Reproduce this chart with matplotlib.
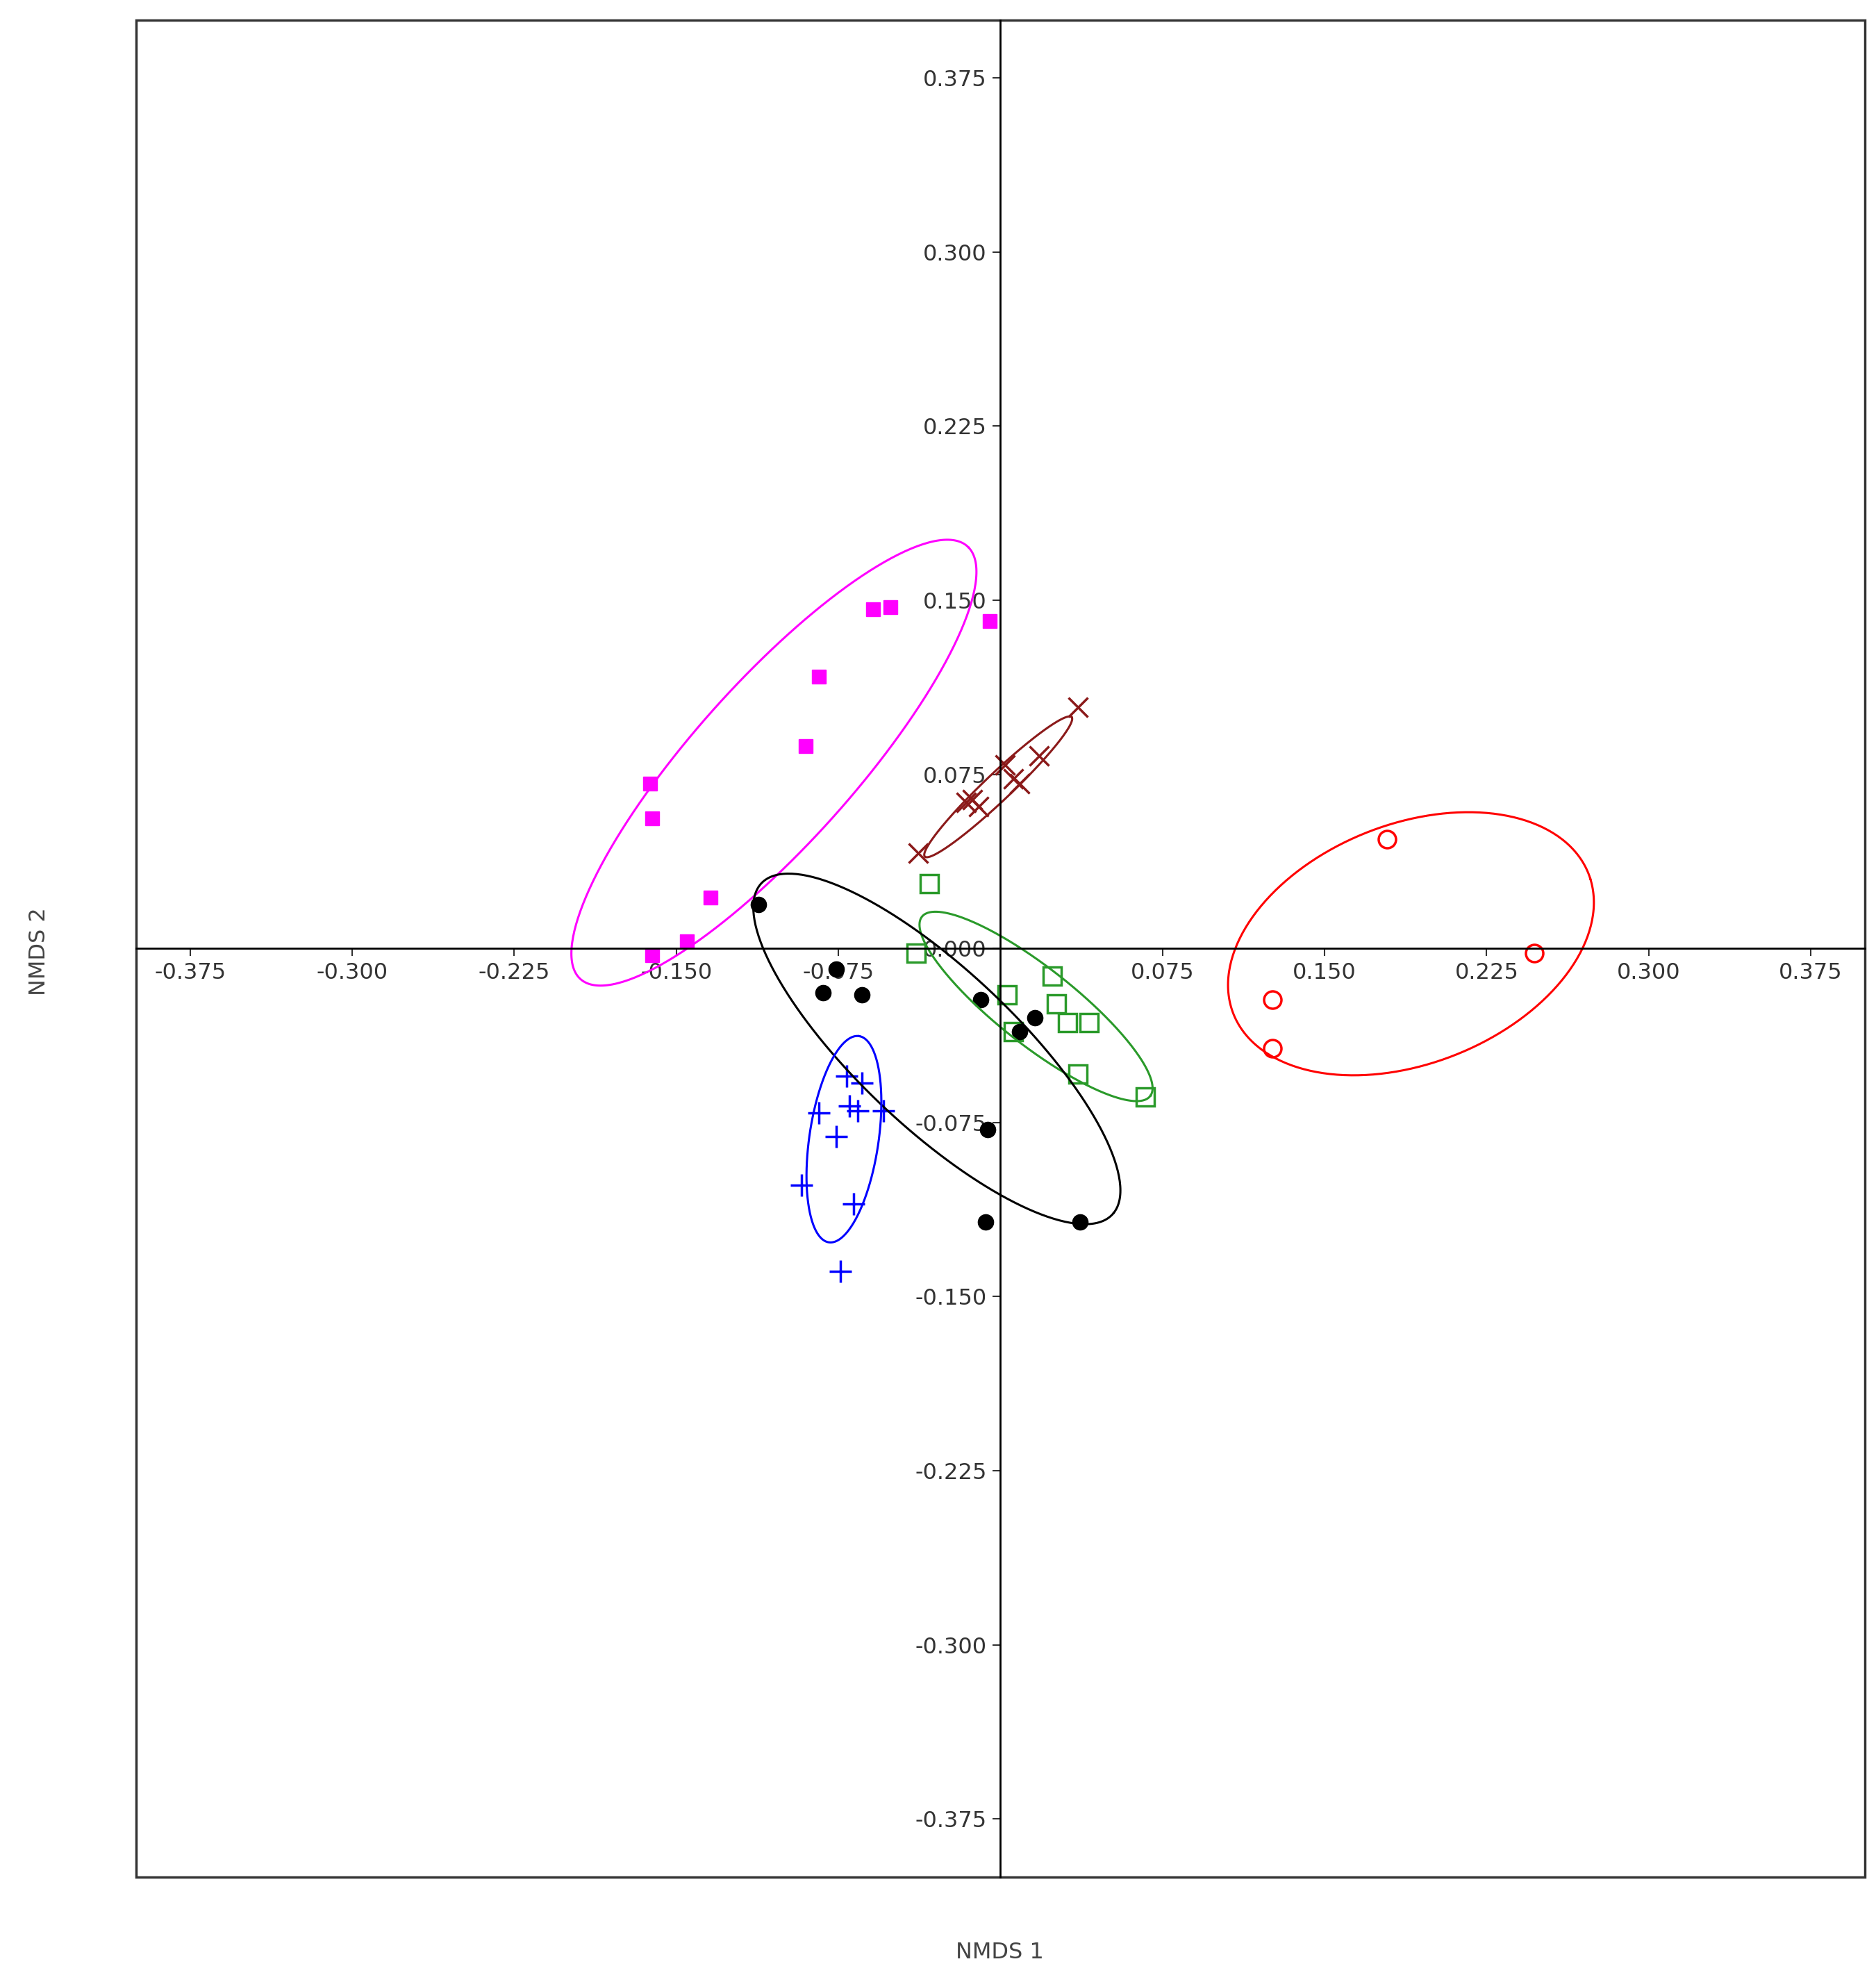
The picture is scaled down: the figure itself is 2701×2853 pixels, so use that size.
import numpy as np
import matplotlib
matplotlib.use("Agg")
import matplotlib.pyplot as plt
from matplotlib.patches import Rectangle

# NMDS scores
mag_x = [-0.162, -0.161, -0.134, -0.145, -0.161, -0.090, -0.084, -0.059, -0.051, -0.005]
mag_y = [0.071, 0.056, 0.022, 0.003, -0.003, 0.087, 0.117, 0.146, 0.147, 0.141]
brn_x = [-0.038, 0.036, 0.002, 0.006, 0.018, -0.013, -0.010, 0.009, -0.016]
brn_y = [0.041, 0.104, 0.079, 0.073, 0.083, 0.064, 0.061, 0.071, 0.063]
red_x = [0.179, 0.247, 0.126, 0.126]
red_y = [0.047, -0.002, -0.022, -0.043]
grn_x = [-0.033, -0.039, 0.003, 0.024, 0.006, 0.026, 0.031, 0.041, 0.036, 0.067]
grn_y = [0.028, -0.002, -0.020, -0.012, -0.036, -0.024, -0.032, -0.032, -0.054, -0.064]
blk_x = [-0.112, -0.076, -0.082, -0.064, -0.009, 0.016, 0.009, -0.006, -0.007, 0.037]
blk_y = [0.019, -0.009, -0.019, -0.020, -0.022, -0.030, -0.036, -0.078, -0.118, -0.118]
blu_x = [-0.071, -0.064, -0.084, -0.070, -0.066, -0.054, -0.076, -0.092, -0.068, -0.074]
blu_y = [-0.055, -0.058, -0.071, -0.068, -0.070, -0.070, -0.081, -0.102, -0.110, -0.139]

# ellipses: center, major semi-axis vector, minor semi-axis length
ellipses = [
    ("magenta", (-0.1048, 0.080), (0.0901, 0.0927), 0.036),
    ("#8b1a1a", (-0.001, 0.0696), (0.034, 0.030), 0.006),
    ("red", (0.190, 0.002), (0.083, 0.028), 0.052),
    ("#2a9a2a", (0.0165, -0.025), (0.053, -0.0384), 0.017),
    ("black", (-0.0294, -0.0433), (0.0818, -0.0707), 0.035),
    ("blue", (-0.0724, -0.0822), (0.0071, 0.0444), 0.016),
]

fig = plt.figure(figsize=(27.01, 28.53), dpi=100)
ax = fig.add_axes([0.0725, 0.053, 0.9215, 0.937])

ms = 15
ax.plot(mag_x, mag_y, "s", color="magenta", ms=ms, ls="none")
ax.plot(brn_x, brn_y, "x", color="#8b1a1a", ms=ms + 5, mew=2.5, ls="none")
ax.plot(red_x, red_y, "o", mfc="none", mec="red", ms=ms + 3, mew=2.5, ls="none")
ax.plot(grn_x, grn_y, "s", mfc="none", mec="#2a9a2a", ms=ms + 4, mew=2.5, ls="none")
ax.plot(blk_x, blk_y, "o", color="black", ms=ms + 1, ls="none")
ax.plot(blu_x, blu_y, "+", color="blue", ms=ms + 8, mew=2.5, ls="none")

t = np.linspace(0, 2 * np.pi, 300)
for col, c, major, b in ellipses:
    u = np.array(major)
    a = np.hypot(*u)
    v = np.array([-u[1], u[0]]) / a * b
    ex = c[0] + u[0] * np.cos(t) + v[0] * np.sin(t)
    ey = c[1] + u[1] * np.cos(t) + v[1] * np.sin(t)
    ax.plot(ex, ey, color=col, lw=2.2)

ax.set_xlim(-0.4, 0.4)
ax.set_ylim(-0.4, 0.4)
ax.spines["left"].set_position("zero")
ax.spines["bottom"].set_position("zero")
ax.spines["top"].set_visible(False)
ax.spines["right"].set_visible(False)
for s in ("left", "bottom"):
    ax.spines[s].set_linewidth(2)
ax.add_patch(Rectangle((0, 0), 1, 1, transform=ax.transAxes, fill=False,
                       lw=2.5, ec="#333333", clip_on=False))

ticks = [-0.375, -0.3, -0.225, -0.15, -0.075, 0.075, 0.15, 0.225, 0.3, 0.375]
ax.set_xticks(ticks)
ax.set_xticklabels([f"{v:.3f}" for v in ticks])
yt = [-0.375, -0.3, -0.225, -0.15, -0.075, 0.0, 0.075, 0.15, 0.225, 0.3, 0.375]
ax.set_yticks(yt)
ax.set_yticklabels([f"{v:.3f}" for v in yt])
ax.tick_params(labelsize=23, colors="#333333", length=8, width=1.5, pad=6)

fig.text(0.533, 0.012, "NMDS 1", fontsize=23, color="#444444", ha="center")
fig.text(0.015, 0.52, "NMDS 2", fontsize=23, color="#444444", rotation=90, va="center")

fig.savefig("out.png", dpi=100)
